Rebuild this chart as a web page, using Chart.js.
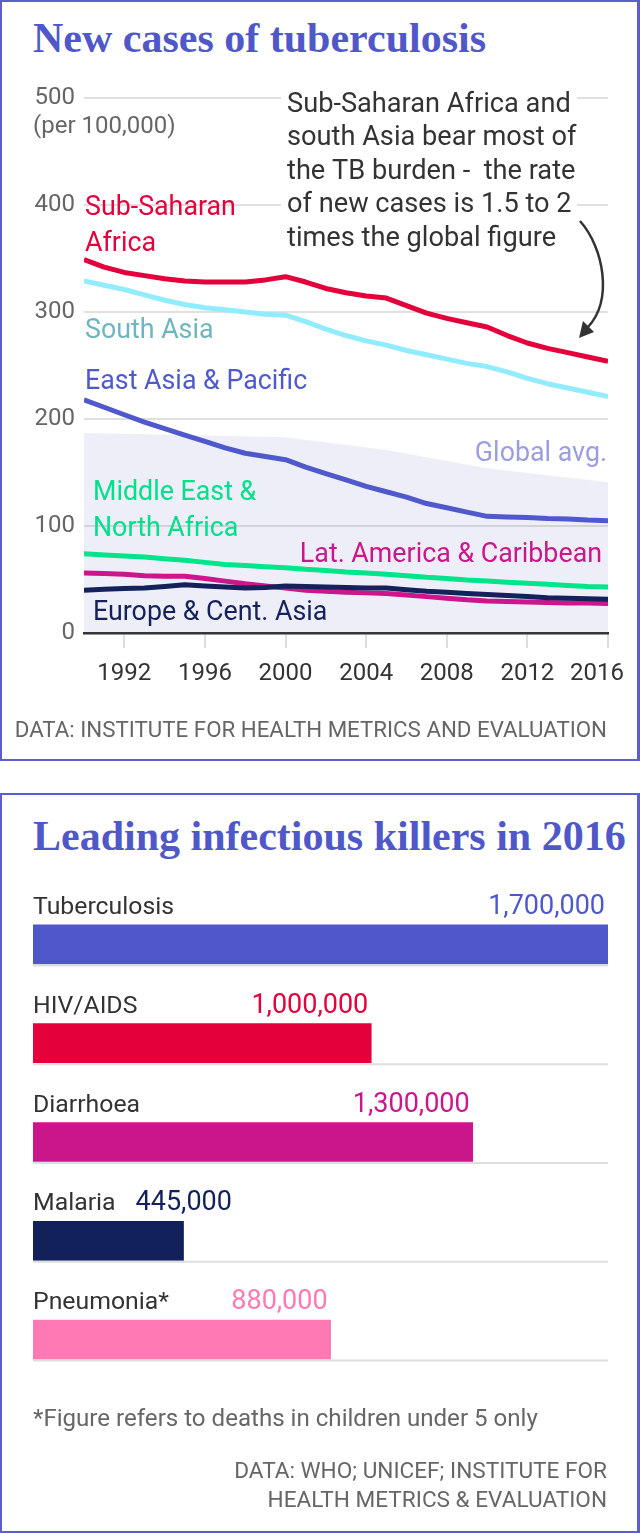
<!DOCTYPE html>
<html><head><meta charset="utf-8">
<script src="https://cdn.jsdelivr.net/npm/chart.js@4.4.1/dist/chart.umd.min.js"></script>
<style>
html,body{margin:0;padding:0;background:#fff;}
body{width:640px;height:1533px;position:relative;overflow:hidden;font-family:Roboto,sans-serif;}
.box{position:absolute;box-sizing:border-box;border:2px solid #5a5ecf;border-right-width:3px;pointer-events:none;z-index:5;}
.title{position:absolute;left:33px;font-family:"Liberation Serif",serif;font-weight:bold;font-size:42px;line-height:42px;color:#5058c9;white-space:nowrap;}
.note{position:absolute;color:#666;white-space:nowrap;font-size:22.3px;line-height:29px;text-align:right;}
canvas{position:absolute;left:0;}
</style></head><body>
<div class="box" style="left:0;top:0;width:640px;height:761px"></div>
<div class="box" style="left:0;top:793px;width:640px;height:740px"></div>
<div class="title" style="top:17px">New cases of tuberculosis</div>
<div class="title" style="top:815px">Leading infectious killers in 2016</div>
<canvas id="c1" width="640" height="761" style="top:0"></canvas>
<canvas id="c2" width="640" height="739" style="top:794px"></canvas>
<div class="note" style="right:33px;top:715px">DATA: INSTITUTE FOR HEALTH METRICS AND EVALUATION</div>
<div class="note" style="left:33px;top:1404px;font-size:24.1px;text-align:left">*Figure refers to deaths in children under 5 only</div>
<div class="note" style="right:33px;top:1456px;font-size:22.6px">DATA: WHO; UNICEF; INSTITUTE FOR<br>HEALTH METRICS &amp; EVALUATION</div>
<script>
// ---------- data: new TB cases per 100,000 ----------
const years = [1990,1991,1992,1993,1994,1995,1996,1997,1998,1999,2000,2001,2002,2003,2004,2005,2006,2007,2008,2009,2010,2011,2012,2013,2014,2015,2016];
const subSaharanAfrica = [349,342,337,334,331,329,328,328,328,330,333,328,322,318,315,313,306,299,294,290,286,278,271,266,262,258,254];
const southAsia = [329,325,321,316,311,307,304,302,300,298,297,291,284,278,273,269,264,260,256,252,249,244,238,233,229,225,221];
const eastAsiaPacific = [218,211,204,197,191,185,179,173,168,165,162,155,149,143,137,132,127,121,117,113,109,108.5,108,107,106.5,105.5,105];
const middleEastNorthAfrica = [74,73,72,71,69.5,68,66,64,63,62,61,59.5,58.5,57,56,55,53.5,52,51,49.5,48.5,47.5,46.5,45.5,44.5,43.5,43];
const latAmericaCaribbean = [56,55.5,55,53.5,53,53,51,48.5,46,44,42,40,39,38,37.5,37,35.5,34,32.5,31,30,29.5,29,28.5,28,28,27.5];
const europeCentAsia = [40,41,41.5,42,43.5,45,44,43,42,42.5,44,43.5,43,42.5,42,42,40.5,39,38,37,36,35,34,33,32.5,32,31.5];
const globalYears = [1990,1995,2000,2005,2010,2016];
const globalAvg = [187,185,183,171,154,141];
const xTickYears = [1992,1996,2000,2004,2008,2012,2016];
const yTickValues = [0,100,200,300,400,500];

// ---------- data: leading infectious killers 2016 ----------
const causes = ['Tuberculosis','HIV/AIDS','Diarrhoea','Malaria','Pneumonia*'];
const deaths = [1700000,1000000,1300000,445000,880000];
const causeColors = ['#4f58cb','#e4003a','#cb168b','#13215a','#ff7ab4'];

const pts = (xs, ys) => xs.map((x, i) => ({x: x, y: ys[i]}));
const FONT = 'Roboto';

function makeCharts() {
  Chart.defaults.font.family = FONT;
  Chart.defaults.animation = false;

  const lineDs = (label, data, color) => ({
    label, data: pts(years, data), borderColor: color, borderWidth: 5,
    pointRadius: 0, tension: 0, fill: false, borderJoinStyle: 'round', borderCapStyle: 'butt'
  });

  const topLabels = {
    id: 'topLabels',
    beforeDatasetsDraw(chart) {
      const c = chart.ctx;
      c.save();
      c.fillStyle = '#fff';
      c.fillRect(281, 86, 296, 166);
      c.restore();
    },
    afterDatasetsDraw(chart) {
      const c = chart.ctx;
      c.save();
      c.textBaseline = 'alphabetic';
      const txt = (s, x, y, color, size, align) => {
        c.font = size + 'px ' + FONT;
        c.fillStyle = color;
        c.textAlign = align || 'left';
        c.fillText(s, x, y);
      };
      const L = 26.8;
      txt('(per 100,000)', 33, 133, '#666', 24);
      txt('Sub-Saharan', 85, 215, '#e4003b', L);
      txt('Africa', 85, 251, '#e4003b', L);
      txt('South Asia', 85, 338, '#6fb5bf', L);
      txt('East Asia & Pacific', 85, 389, '#4f59cc', L);
      txt('Global avg.', 607, 461, '#9a9de0', L, 'right');
      txt('Middle East &', 93, 500, '#00e08a', L);
      txt('North Africa', 93, 536, '#00e08a', L);
      txt('Lat. America & Caribbean', 602, 562, '#cc168c', L, 'right');
      txt('Europe & Cent. Asia', 93, 620, '#14215a', L);
      const note = ['Sub-Saharan Africa and', 'south Asia bear most of', 'the TB burden -  the rate', 'of new cases is 1.5 to 2', 'times the global figure'];
      note.forEach((s, i) => txt(s, 287, 112 + i * 33.4, '#333', 27.2));
      // arrow
      c.strokeStyle = '#333'; c.fillStyle = '#333'; c.lineWidth = 2.5;
      c.beginPath(); c.moveTo(580, 221); c.bezierCurveTo(604, 248, 613, 300, 588, 327); c.stroke();
      c.beginPath(); c.moveTo(579, 338); c.lineTo(594, 332); c.lineTo(583, 321); c.closePath(); c.fill();
      // x tick labels
      const xs = chart.scales.x;
      c.font = '24px ' + FONT; c.fillStyle = '#333'; c.textAlign = 'center';
      xTickYears.forEach(yr => {
        const w = c.measureText(String(yr)).width;
        let cx = xs.getPixelForValue(yr);
        cx = Math.min(cx, chart.width - 16 - w / 2);
        c.fillText(String(yr), cx, 680);
      });
      c.restore();
    }
  };

  new Chart(document.getElementById('c1'), {
    type: 'line',
    data: {
      datasets: [
        lineDs('Europe & Cent. Asia', europeCentAsia, '#14215a'),
        lineDs('Lat. America & Caribbean', latAmericaCaribbean, '#cc168c'),
        lineDs('Middle East & North Africa', middleEastNorthAfrica, '#00e58b'),
        lineDs('East Asia & Pacific', eastAsiaPacific, '#4f59cc'),
        lineDs('South Asia', southAsia, '#92ecff'),
        lineDs('Sub-Saharan Africa', subSaharanAfrica, '#e4003b'),
        { label: 'Global avg.', data: pts(globalYears, globalAvg), borderWidth: 0, pointRadius: 0,
          tension: 0, fill: 'origin', backgroundColor: 'rgba(86,92,200,0.10)', borderColor: 'rgba(0,0,0,0)' }
      ]
    },
    options: {
      responsive: false, devicePixelRatio: 1,
      layout: { padding: { left: 0, right: 32, top: 98, bottom: 0 } },
      plugins: { legend: { display: false }, tooltip: { enabled: false } },
      scales: {
        x: {
          type: 'linear', min: 1990, max: 2016,
          afterBuildTicks: s => { s.ticks = xTickYears.map(v => ({ value: v })); },
          afterFit: s => { s.height = 128; },
          ticks: { display: false },
          grid: { drawOnChartArea: false, drawTicks: true, tickLength: 15, color: '#dddddd', lineWidth: 2 },
          border: { display: true, color: '#333', width: 2.5 }
        },
        y: {
          min: 0, max: 500,
          afterBuildTicks: s => { s.ticks = yTickValues.map(v => ({ value: v })); },
          afterFit: s => { s.width = 84; },
          ticks: { padding: 9, color: '#666', font: { size: 24 }, callback: v => String(v) },
          grid: { color: ctx => (ctx.tick && ctx.tick.value === 0) ? 'rgba(0,0,0,0)' : '#e0e0e0', lineWidth: 2, drawTicks: false },
          border: { display: false }
        }
      }
    },
    plugins: [topLabels]
  });

  const barLabels = {
    id: 'barLabels',
    afterDatasetsDraw(chart) {
      const c = chart.ctx;
      const meta = chart.getDatasetMeta(0);
      const area = chart.chartArea;
      c.save();
      c.textBaseline = 'alphabetic';
      meta.data.forEach((bar, i) => {
        const h = bar.height;
        const top = bar.y - h / 2, bottom = bar.y + h / 2;
        c.strokeStyle = '#dedede'; c.lineWidth = 2;
        c.beginPath(); c.moveTo(bar.base, bottom + 1.5); c.lineTo(area.right, bottom + 1.5); c.stroke();
        c.font = '24.8px ' + FONT;
        c.fillStyle = '#333'; c.textAlign = 'left';
        c.fillText(causes[i], area.left, top - 11);
        const labelEnd = area.left + c.measureText(causes[i]).width;
        c.font = '27px ' + FONT;
        const v = deaths[i].toLocaleString('en-US');
        const w = c.measureText(v).width;
        const x = Math.max(bar.x - 3 - w, labelEnd + 20);
        c.fillStyle = causeColors[i];
        c.fillText(v, x, top - 11);
      });
      c.restore();
    }
  };

  new Chart(document.getElementById('c2'), {
    type: 'bar',
    data: { labels: causes, datasets: [{ data: deaths, backgroundColor: causeColors, borderWidth: 0, barThickness: 39 }] },
    options: {
      indexAxis: 'y', responsive: false, devicePixelRatio: 1,
      layout: { padding: { left: 33, right: 32, top: 101, bottom: 144 } },
      plugins: { legend: { display: false }, tooltip: { enabled: false } },
      scales: { x: { display: false, min: 0, max: 1700000 }, y: { display: false } }
    },
    plugins: [barLabels]
  });
}

Promise.all([document.fonts.load('26px Roboto'), document.fonts.load('bold 42px "Liberation Serif"')])
  .catch(() => {}).then(makeCharts);
</script>
</body></html>
